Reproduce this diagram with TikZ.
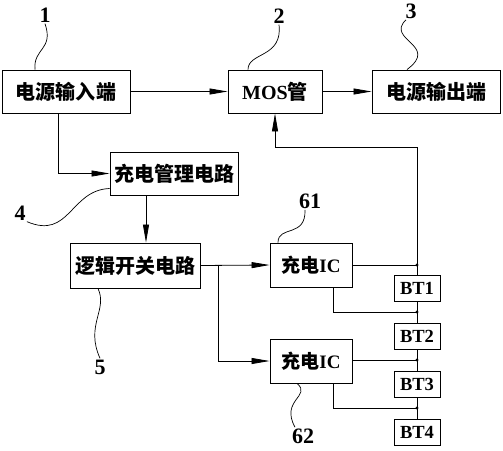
\documentclass[tikz,border=0pt]{standalone}
\usepackage{fontspec}
\setmainfont{Liberation Serif}
\newfontfamily\cjk{Noto Sans CJK SC}
\newcommand{\zh}[1]{{\cjk #1}}
\usetikzlibrary{arrows.meta}

\begin{document}
\begin{tikzpicture}[x=1pt,y=-1pt,>={Triangle[length=18pt,width=6pt]},line width=0.8pt,
    box/.style={draw,line width=0.9pt,font=\bfseries\fontsize{20}{20}\selectfont,minimum height=43pt,inner sep=2pt},
    icbox/.style={box,font=\bfseries\fontsize{19}{19}\selectfont,minimum width=82pt,minimum height=44pt},
    bat/.style={draw,line width=0.9pt,font=\bfseries\fontsize{18.5}{18}\selectfont,minimum width=46pt,minimum height=26pt,inner sep=1pt},
    num/.style={font=\bfseries\fontsize{22}{22}\selectfont,inner sep=1pt},
    lead/.style={line width=0.7pt},
    node distance=48.3pt]
    \useasboundingbox (0,0) rectangle (503,450);

    \node[box,minimum width=128pt] (in)   at (66,91.5)   {\zh{电源输入端}};
    \node[box,minimum width=94pt]  (mos)  at (275,91.5)  {MOS\zh{管}};
    \node[box,minimum width=128pt] (out)  at (436,91.5)  {\zh{电源输出端}};
    \node[box,minimum width=128pt] (mgmt) at (174,173.5) {\zh{充电管理电路}};
    \node[box,minimum width=130pt,minimum height=45pt] (logic) at (135,265.5) {\zh{逻辑开关电路}};
    \node[icbox] (ic1) at (311,265) {\zh{充电}IC};
    \node[icbox] (ic2) at (311,361) {\zh{充电}IC};

    \node[bat] (bt1) at (417,288)  {BT1};
    \node[bat] (bt2) [below of=bt1] {BT2};
    \node[bat] (bt3) [below of=bt2] {BT3};
    \node[bat] (bt4) [below of=bt3] {BT4};

    \coordinate (top) at (417,147);
    \coordinate (d1)  at (417,265);
    \coordinate (d2)  at (417,312);
    \coordinate (d3)  at (417,360);
    \coordinate (d4)  at (417,408);
    \coordinate (br)  at ([xshift=18]logic.east);

    % main power path
    \draw[->] (in.east) -- (mos.west);
    \draw[->] (mos.east) -- (out.west);
    \draw[->] ([xshift=-8]in.south) |- (mgmt.west);
    \draw[->] ([xshift=-28]mgmt.south) -- ([xshift=-28]mgmt.south |- logic.north);
    \draw[->] (logic.east) -- (ic1.west);
    \draw[->] (br) |- (ic2.west);

    % battery string
    \draw[->] (bt1.north) -- (top) -| (mos.south);
    \draw (bt1) -- (bt2) (bt2) -- (bt3) (bt3) -- (bt4);
    \draw (ic1.east) -- (d1);
    \draw ([xshift=22]ic1.south) |- (d2);
    \draw (d3 -| ic2.east) -- (d3);
    \draw ([xshift=22]ic2.south) |- (d4);
    \foreach \d in {d1,d2,d3,d4}
        \fill (\d) circle (1.7pt);

    % reference numerals
    \node[num] (l1)  at (45,15)   {1};
    \node[num] (l2)  at (279,16)  {2};
    \node[num] (l3)  at (411,11)  {3};
    \node[num] (l4)  at (20,213)  {4};
    \node[num] (l5)  at (100,367) {5};
    \node[num] (l61) at (310,201) {61};
    \node[num] (l62) at (303,436) {62};

    \draw[lead] (l1.south) .. controls (54,50) and (33,48) .. ([xshift=-31]in.north);
    \draw[lead] (l2.south) .. controls (283,58) and (248,52) .. ([xshift=-27]mos.north);
    \draw[lead] ([xshift=-5]l3.south) .. controls (385,40) and (440,45) .. ([xshift=-29]out.north);
    \draw[lead] (l4.south east) .. controls (70,240) and (70,190) .. ([yshift=-15]mgmt.west);
    \draw[lead] ([xshift=-37]logic.south) .. controls (108,310) and (85,325) .. (l5.north);
    \draw[lead] ([xshift=-5]l61.south) .. controls (306,238) and (278,225) .. ([xshift=-33]ic1.north);
    \draw[lead] ([xshift=-14]ic2.south) .. controls (312,396) and (280,400) .. ([xshift=-8]l62.north);
\end{tikzpicture}
\end{document}
